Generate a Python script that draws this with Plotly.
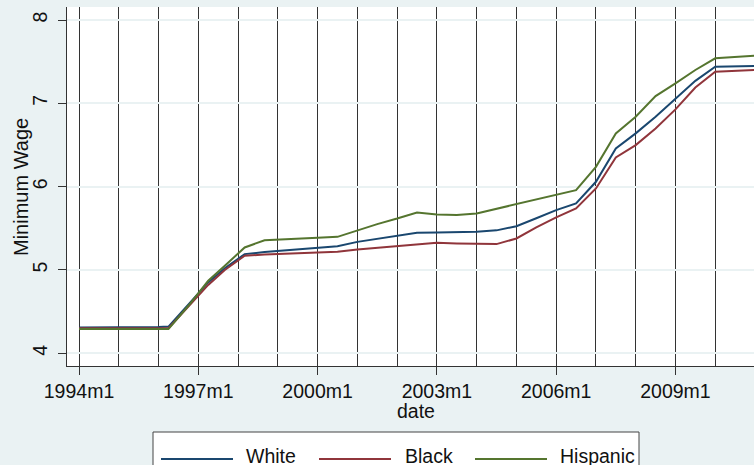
import plotly.graph_objects as go

# Monthly dates (Stata %tm style) and average minimum wage by group
dates = ["1994m1", "1995m1", "1996m1", "1996m4", "1996m10", "1997m4", "1997m9",
         "1998m3", "1998m9", "1999m3", "1999m8", "2000m1", "2000m7", "2001m1",
         "2001m7", "2002m1", "2002m7", "2003m1", "2003m7", "2004m1", "2004m7",
         "2005m1", "2005m7", "2006m1", "2006m7", "2007m1", "2007m7", "2008m1",
         "2008m7", "2009m1", "2009m7", "2010m1", "2010m7", "2011m1"]

white = [4.31, 4.31, 4.315, 4.32, 4.59, 4.85, 5.02,
         5.19, 5.215, 5.235, 5.25, 5.265, 5.285, 5.337,
         5.375, 5.409, 5.445, 5.45, 5.452, 5.457, 5.475,
         5.525, 5.62, 5.718, 5.798, 6.058, 6.459, 6.639,
         6.838, 7.058, 7.27, 7.44, 7.445, 7.447]

black = [4.30, 4.30, 4.30, 4.30, 4.56, 4.82, 5.00,
         5.17, 5.185, 5.195, 5.205, 5.21, 5.217, 5.246,
         5.266, 5.285, 5.31, 5.325, 5.317, 5.31, 5.31,
         5.378, 5.51, 5.63, 5.738, 5.978, 6.35, 6.498,
         6.699, 6.927, 7.19, 7.38, 7.39, 7.40]

hispanic = [4.29, 4.29, 4.29, 4.29, 4.57, 4.87, 5.05,
            5.27, 5.357, 5.365, 5.375, 5.385, 5.397, 5.477,
            5.55, 5.617, 5.69, 5.666, 5.658, 5.678, 5.735,
            5.79, 5.85, 5.91, 5.958, 6.238, 6.639, 6.838,
            7.087, 7.24, 7.40, 7.54, 7.56, 7.571]

tick_labels = ["1994m1", "1997m1", "2000m1", "2003m1", "2006m1", "2009m1"]
y_ticks = [4, 5, 6, 7, 8]

series_names = ["White", "Black", "Hispanic"]
series_colors = ["#1a476f", "#90353b", "#55752f"]


def tm(label):
    """Convert a Stata monthly label like '1994m1' to months since 1960m1."""
    year, month = label.split("m")
    return (int(year) - 1960) * 12 + int(month) - 1


x_vals = [tm(d) for d in dates]
tick_vals = [tm(t) for t in tick_labels]

W, H = 754, 465
L, R, T, B = 67, 0, 7, 99
FONT = "Liberation Sans, Arial, sans-serif"
BG = "#eaf2f3"
TXT = "#111"

fig = go.Figure()
for name, vals, col in zip(series_names, [white, black, hispanic], series_colors):
    fig.add_trace(go.Scatter(x=x_vals, y=vals, mode="lines", name=name,
                             line=dict(color=col, width=2), showlegend=False))

x0 = tm("1994m1")
fig.update_layout(
    width=W, height=H,
    margin=dict(l=L, r=R, t=T, b=B),
    paper_bgcolor=BG, plot_bgcolor="white",
    font=dict(family=FONT, size=19.5, color=TXT),
    xaxis=dict(
        range=[x0 - 3.62, x0 + 203.7],
        tickmode="array", tickvals=tick_vals, ticktext=tick_labels,
        ticks="outside", ticklen=8, tickcolor="#333", tickwidth=1,
        showline=True, linecolor="#333", linewidth=1,
        showgrid=True, gridcolor="#333", gridwidth=1,
        minor=dict(tick0=x0, dtick=12, showgrid=True, gridcolor="#333", gridwidth=1),
        zeroline=False,
        tickfont=dict(size=19.5),
    ),
    yaxis=dict(
        range=[3.847, 8.156],
        tickmode="array", tickvals=y_ticks, ticktext=[str(v) for v in y_ticks],
        tickangle=-90,
        ticks="outside", ticklen=8, tickcolor="#333", tickwidth=1,
        ticklabelstandoff=3,
        showline=True, linecolor="#333", linewidth=1,
        showgrid=True, gridcolor=BG, gridwidth=1.5,
        zeroline=False,
        tickfont=dict(size=19.5),
    ),
)

# Helpers to place legend and axis titles in pixel terms
pw, ph = W - L - R, H - T - B


def px(x):
    return (x - L) / pw


def py(y):
    return (H - B - y) / ph


fig.add_annotation(text="Minimum Wage", x=px(21), y=py(187), xref="paper", yref="paper",
                   showarrow=False, textangle=-90, font=dict(size=20, color=TXT),
                   xanchor="center", yanchor="middle")
fig.add_annotation(text="date", x=px(415.5), y=py(411), xref="paper", yref="paper",
                   showarrow=False, font=dict(size=19.5, color=TXT),
                   xanchor="center", yanchor="middle")

# Legend box below the plot
fig.add_shape(type="rect", xref="paper", yref="paper",
              x0=px(153), x1=px(639), y0=py(490), y1=py(432),
              line=dict(color="#444", width=1), fillcolor="white", layer="above")
legend_line_x = [161, 319, 475]
legend_text_x = [244, 403, 558]
for name, col, lx, tx in zip(series_names, series_colors, legend_line_x, legend_text_x):
    fig.add_shape(type="line", xref="paper", yref="paper",
                  x0=px(lx), x1=px(lx + 72), y0=py(459), y1=py(459),
                  line=dict(color=col, width=2), layer="above")
    fig.add_annotation(text=name, x=px(tx), y=py(456), xref="paper", yref="paper",
                       showarrow=False, xanchor="left", yanchor="middle",
                       font=dict(size=19.5, color=TXT))

fig.write_html("out.html")
